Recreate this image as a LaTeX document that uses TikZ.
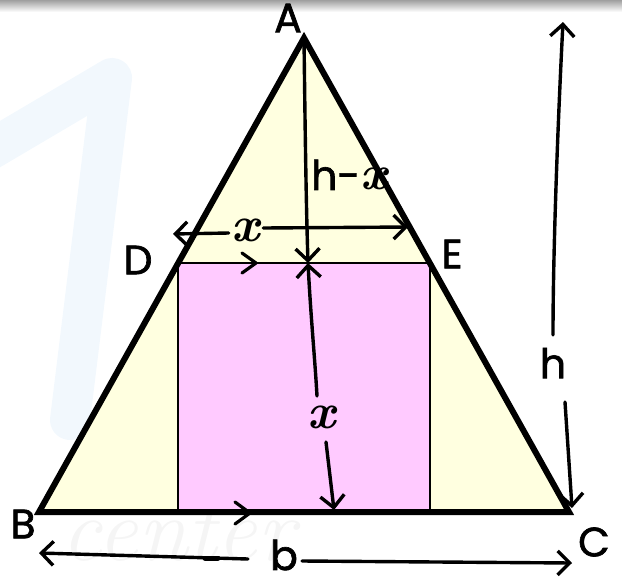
\documentclass[tikz,border=0pt]{standalone}
\usepackage{fontspec}
\setmainfont{Poppins}
\newfontfamily\handfont[FakeBold=1.6]{Poppins}
\newfontfamily\lmfont{Latin Modern Roman}
\usetikzlibrary{arrows.meta,calc}
\definecolor{triyellow}{RGB}{255,255,224}
\definecolor{rectpink}{RGB}{255,202,255}
\definecolor{wmblue}{RGB}{242,248,253}
\definecolor{wmgray}{RGB}{245,245,245}
\tikzset{barb/.tip={Straight Barb[length=12pt,width=24pt]}}
\newcommand{\hx}{{\lmfont\bfseries\itshape\fontsize{48}{50}\selectfont x}}
\begin{document}
\begin{tikzpicture}[x=1pt,y=-1pt,
  lbl/.style={font=\handfont\fontsize{41}{43}\selectfont, inner sep=0pt},
  xlbl/.style={font=\lmfont\bfseries\itshape\fontsize{50}{52}\selectfont, inner sep=0pt},
  dimline/.style={line width=3.4pt, line cap=round, line join=round},
  parmark/.style={line width=3.2pt, line cap=round, line join=round}]
\useasboundingbox (0,0) rectangle (622,582);
% top shadow of the screenshot
\shade[top color=gray!75, bottom color=white] (0,0) rectangle (622,12);
% faint watermark
\draw[wmblue, line width=40pt, line cap=round, line join=round] (-10,150) -- (112,78) -- (70,420);
\node[text=wmgray, font=\lmfont\itshape\fontsize{90}{90}\selectfont, inner sep=0pt] (wm) at (178,533) {center};
% triangle and square
\coordinate (A) at (304,38);
\coordinate (B) at (39,512);
\coordinate (C) at (569,512);
\coordinate (D) at ($(A)!0.4747!(B)$);
\coordinate (E) at ($(A)!0.4747!(C)$);
\coordinate (G) at (E |- B);
\fill[triyellow] (A) -- (B) -- (C) -- cycle;
\fill[rectpink] (D) rectangle (G);
\draw[line width=2.4pt] (D) rectangle (G);
\draw[line width=6pt, line join=miter] (A) -- (B) -- (C) -- cycle;
% parallel marks
\draw[parmark] (242,253) -- (256,263) -- (242,273);
\draw[parmark] (235,502) -- (250,513) -- (235,524);
% labels
\node[lbl] (lA) at (288,18) {A};
\node[lbl] (lB) at (23,524) {B};
\node[lbl] (lC) at (594,542) {C};
\node[lbl] (lD) at (138,260) {D};
\node[lbl] (lE) at (452,254) {E};
\node[lbl] (lb) at (284,555) {b};
\node[lbl] (lh) at (553,363) {h};
\node[lbl, anchor=west] (lhx) at (311,175) {h-\hx};
\node[xlbl] (lx1) at (246,230) {x};
\node[xlbl] (lx2) at (322,417) {x};
% h - x
\coordinate (S) at (308,263);
\draw[dimline, -barb] (A) .. controls (305,120) and (306,200) .. (S);
% x vertical
\coordinate (xv1) at (317,396);
\coordinate (xv2) at (326,442);
\coordinate (xv3) at (334,510);
\draw[dimline, barb-] (S) .. controls (311,320) and (315,360) .. (xv1);
\draw[dimline, -barb] (xv2) -- (xv3);
% x horizontal
\coordinate (xl) at (173,234);
\coordinate (xr) at (408,227);
\draw[dimline, -barb] (lx1.west) ++(-3,3) coordinate (xl0) -- (xl);
\draw[dimline, -barb] (lx1.east) ++(3,-2) coordinate (xr0) -- (xr);
% h
\coordinate (ht) at (563,22);
\coordinate (hm) at (553,335);
\coordinate (hb0) at (565,402);
\coordinate (hb) at (572,508);
\draw[dimline, barb-] (ht) .. controls (558,120) and (553,250) .. (hm);
\draw[dimline, -barb] (hb0) -- (hb);
% b
\coordinate (bl) at (39,553);
\coordinate (bl0) at (248,559);
\coordinate (br0) at (302,561);
\coordinate (br) at (572,563);
\draw[dimline, barb-] (bl) -- (bl0);
\draw[line width=5pt, line cap=round] (205,558) -- (218,558);
\draw[dimline, -barb] (br0) -- (br);
\end{tikzpicture}
\end{document}
